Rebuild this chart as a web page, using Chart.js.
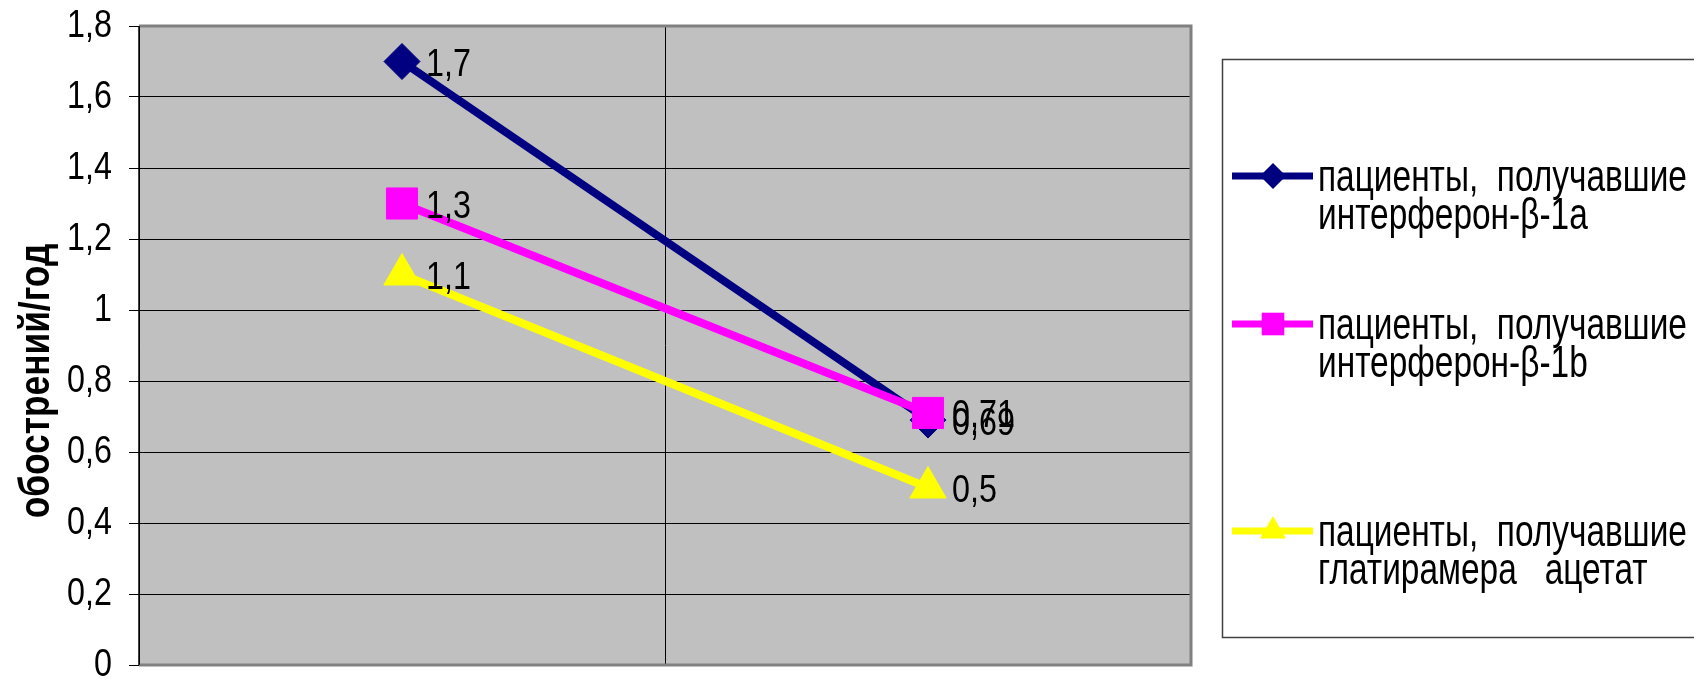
<!DOCTYPE html>
<html>
<head>
<meta charset="utf-8">
<script src="https://cdn.jsdelivr.net/npm/chart.js@4.4.1/dist/chart.umd.min.js"></script>
<style>
  html, body { margin: 0; padding: 0; background: #fff; }
</style>
</head>
<body>
<canvas id="chart" width="1694" height="688"></canvas>
<script>
// periods (x axis has no labels in the original)
var categories = ["до лечения", "на фоне лечения"];

// exacerbations per year
var interferon1a = [1.7, 0.69];
var interferon1b = [1.3, 0.71];
var glatiramer = [1.1, 0.5];

var seriesNames = [
    ["пациенты,  получавшие", "интерферон-β-1a"],
    ["пациенты,  получавшие", "интерферон-β-1b"],
    ["пациенты,  получавшие", "глатирамера   ацетат"]
];

var yMin = 0, yMax = 1.8, yStep = 0.2;
var yTitle = "обострений/год";

var FONT = "'Liberation Sans', Arial, sans-serif";

function fmt(v) {
    return String(Math.round(v * 100) / 100).replace(".", ",");
}

// the original uses a narrow face, so text is squeezed sideways
function narrowText(ctx, text, x, y, sx) {
    ctx.save();
    ctx.translate(x, y);
    ctx.scale(sx, 1);
    ctx.fillText(text, 0, 0);
    ctx.restore();
}

// grey plot background, frame, y tick labels and axis title
var plotArea = {
    id: "plotArea",
    beforeDraw: function (chart) {
        var a = chart.chartArea, ctx = chart.ctx;
        ctx.save();
        ctx.fillStyle = "#c0c0c0";
        ctx.fillRect(a.left, a.top, a.right - a.left, a.bottom - a.top);
        ctx.restore();
    },
    afterDraw: function (chart) {
        var a = chart.chartArea, ctx = chart.ctx, y = chart.scales.y;
        ctx.save();
        ctx.strokeStyle = "#808080";
        ctx.lineWidth = 3;
        ctx.beginPath();
        ctx.moveTo(a.left, a.top);
        ctx.lineTo(a.right, a.top);
        ctx.lineTo(a.right, a.bottom);
        ctx.lineTo(a.left, a.bottom);
        ctx.stroke();
        ctx.strokeStyle = "#000";
        ctx.lineWidth = 1.5;
        ctx.beginPath();
        ctx.moveTo(a.left, a.top);
        ctx.lineTo(a.left, a.bottom);
        ctx.stroke();

        ctx.fillStyle = "#000";
        ctx.font = "38px " + FONT;
        ctx.textAlign = "right";
        ctx.textBaseline = "middle";
        y.ticks.forEach(function (t) {
            narrowText(ctx, fmt(t.value), a.left - 27, y.getPixelForValue(t.value) + 1, 0.85);
        });

        ctx.translate(37, 381);
        ctx.rotate(-Math.PI / 2);
        ctx.font = "bold 42px " + FONT;
        ctx.textAlign = "center";
        narrowText(ctx, yTitle, 0, 0, 0.84);
        ctx.restore();
    }
};

// value labels right of each point
var valueLabels = {
    id: "valueLabels",
    afterDatasetsDraw: function (chart) {
        var ctx = chart.ctx;
        ctx.save();
        ctx.fillStyle = "#000";
        ctx.font = "38px " + FONT;
        ctx.textAlign = "left";
        ctx.textBaseline = "middle";
        chart.data.datasets.forEach(function (ds, i) {
            var meta = chart.getDatasetMeta(i);
            meta.data.forEach(function (pt, j) {
                narrowText(ctx, fmt(ds.data[j]), pt.x + 24, pt.y + 4, 0.85);
            });
        });
        ctx.restore();
    }
};

// legend box on the right
var sideLegend = {
    id: "sideLegend",
    afterDraw: function (chart) {
        var ctx = chart.ctx;
        var rows = [176, 324, 531];
        ctx.save();
        ctx.strokeStyle = "#404040";
        ctx.lineWidth = 1.5;
        ctx.strokeRect(1222.5, 59.5, 600, 578);
        chart.data.datasets.forEach(function (ds, i) {
            var y = rows[i];
            ctx.strokeStyle = ds.borderColor;
            ctx.lineWidth = 7;
            ctx.beginPath();
            ctx.moveTo(1232, y);
            ctx.lineTo(1313, y);
            ctx.stroke();
            ctx.fillStyle = ds.borderColor;
            Chart.helpers.drawPoint(ctx, {
                pointStyle: ds.pointStyle, rotation: 0,
                radius: ds.legendRadius, borderWidth: 0
            }, 1273, y);
            ctx.fillStyle = "#000";
            ctx.font = "44px " + FONT;
            ctx.textAlign = "left";
            ctx.textBaseline = "middle";
            seriesNames[i].forEach(function (line, k) {
                narrowText(ctx, line, 1318, y + 3 + k * 38, 0.76);
            });
        });
        ctx.restore();
    }
};

function series(i, data, color, style, radius, legendRadius, order) {
    return {
        label: seriesNames[i].join(" "),
        data: data,
        borderColor: color,
        backgroundColor: color,
        borderWidth: 8,
        pointStyle: style,
        pointRadius: radius,
        pointHoverRadius: radius,
        pointBorderWidth: 1,
        legendRadius: legendRadius,
        order: order,
        tension: 0
    };
}

new Chart(document.getElementById("chart").getContext("2d"), {
    type: "line",
    data: {
        labels: categories,
        datasets: [
            series(0, interferon1a, "#000080", "rectRot", 18, 13, 3),
            series(1, interferon1b, "#ff00ff", "rect", 22, 16, 2),
            series(2, glatiramer, "#ffff00", "triangle", 21, 15, 1)
        ]
    },
    options: {
        responsive: false,
        animation: false,
        layout: { padding: { top: 26, right: 503, left: 0, bottom: 0 } },
        plugins: {
            legend: { display: false },
            tooltip: { enabled: false }
        },
        scales: {
            x: {
                offset: true,
                ticks: { display: false },
                grid: { offset: true, color: "#000", lineWidth: 1, drawTicks: false },
                border: { display: false },
                afterFit: function (s) {
                    s.height = 12;
                    s.paddingLeft = 0; s.paddingRight = 0;
                    s.paddingTop = 0; s.paddingBottom = 0;
                }
            },
            y: {
                min: yMin,
                max: yMax,
                ticks: { stepSize: yStep, display: false },
                grid: { color: "#000", lineWidth: 1, tickLength: 10, drawTicks: true },
                border: { display: false },
                afterFit: function (s) {
                    s.width = 139;
                    s.paddingTop = 0; s.paddingBottom = 0;
                    s.paddingLeft = 0; s.paddingRight = 0;
                }
            }
        }
    },
    plugins: [plotArea, valueLabels, sideLegend]
});
</script>
</body>
</html>
